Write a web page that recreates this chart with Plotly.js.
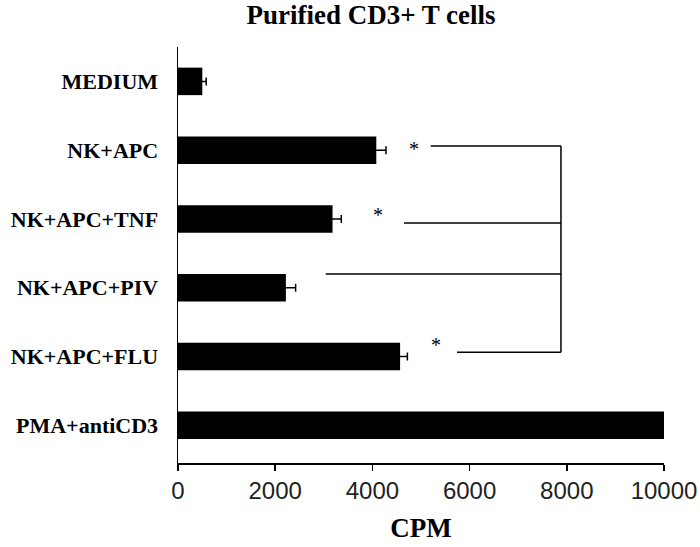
<!DOCTYPE html>
<html>
<head>
<meta charset="utf-8">
<script src="https://cdn.plot.ly/plotly-3.0.1.min.js"></script>
<style>html,body{margin:0;padding:0;background:#fff;}#chart{width:700px;height:547px;}</style>
</head>
<body>
<div id="chart"></div>
<script>
// Data
const categories = ["MEDIUM", "NK+APC", "NK+APC+TNF", "NK+APC+PIV", "NK+APC+FLU", "PMA+antiCD3"];
const cpm = [500, 4080, 3180, 2220, 4570, 10080];
const cpmErr = [80, 200, 180, 200, 150, 0];
const xTicks = [0, 2000, 4000, 6000, 8000, 10000];

// Significance bracket (data units: x = CPM, y = category index)
const bracketStartX = [5200, 4650, 3040, 5740];
const bracketRowY = [0.94, 2.06, 2.80, 3.94];
const bracketEndX = 7880;
const starX = [4850, 4120, 5300];
const starY = [0.98, 1.94, 3.83];

const idx = categories.map((c, i) => i);

const trace = {
  type: 'bar',
  orientation: 'h',
  x: cpm,
  y: idx,
  width: 0.4,
  marker: {color: '#000000', line: {width: 0}},
  error_x: {type: 'data', array: cpmErr, visible: true, color: '#000000', thickness: 1.5, width: 4},
  cliponaxis: false,
  hoverinfo: 'none'
};

const shapes = [];
bracketStartX.forEach((x0, i) => {
  shapes.push({type: 'line', xref: 'x', yref: 'y', x0: x0, x1: bracketEndX, y0: bracketRowY[i], y1: bracketRowY[i], line: {color: '#000', width: 1.5}});
});
shapes.push({type: 'line', xref: 'x', yref: 'y', x0: bracketEndX, x1: bracketEndX, y0: bracketRowY[0], y1: bracketRowY[bracketRowY.length - 1], line: {color: '#000', width: 1.5}});

const annotations = starX.map((x, i) => ({
  x: x, y: starY[i], xref: 'x', yref: 'y', text: '*', showarrow: false,
  font: {family: 'Liberation Serif, serif', size: 20, color: '#000'}
}));

const layout = {
  width: 700, height: 547,
  margin: {l: 178, r: 36, t: 47, b: 84},
  paper_bgcolor: '#fff', plot_bgcolor: '#fff',
  showlegend: false,
  title: {
    text: 'Purified CD3+ T cells',
    font: {family: 'Liberation Serif, serif', size: 27, color: '#000', weight: 'bold'},
    xref: 'container', x: 0.53, xanchor: 'center',
    yref: 'container', y: 0.974, yanchor: 'middle'
  },
  xaxis: {
    range: [0, 10000],
    tickvals: xTicks,
    ticktext: xTicks.map(String),
    showgrid: false, zeroline: false,
    showline: true, linecolor: '#000', linewidth: 1.5,
    ticks: 'outside', ticklen: 6, tickwidth: 1.5, tickcolor: '#000',
    ticklabeloverflow: 'allow',
    tickfont: {family: 'Liberation Sans, Arial, sans-serif', size: 24, color: '#222'},
    title: {text: 'CPM', font: {family: 'Liberation Serif, serif', size: 27, color: '#000', weight: 'bold'}, standoff: 15},
    fixedrange: true
  },
  yaxis: {
    range: [5.55, -0.5],
    tickvals: idx,
    ticktext: categories,
    showgrid: false, zeroline: false,
    showline: true, linecolor: '#000', linewidth: 1.5,
    ticks: '', ticklabelstandoff: 14,
    tickfont: {family: 'Liberation Serif, serif', size: 22, color: '#000', weight: 'bold'},
    fixedrange: true
  },
  shapes: shapes,
  annotations: annotations
};

Plotly.newPlot('chart', [trace], layout, {displayModeBar: false, staticPlot: true});
</script>
</body>
</html>
